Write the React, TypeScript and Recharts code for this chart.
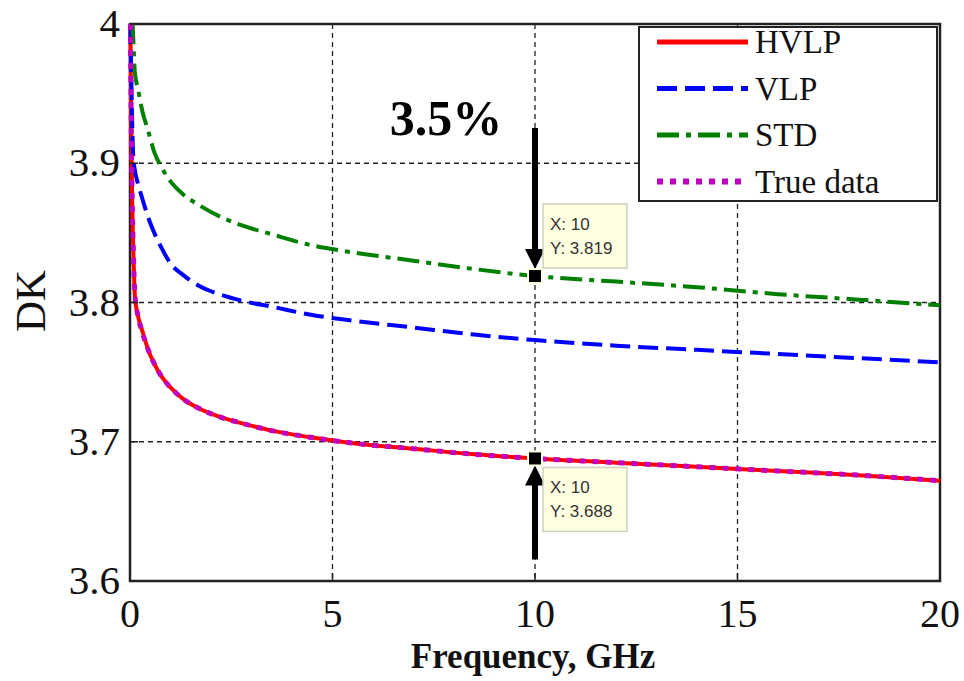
import React from "react"
import {
  LineChart,
  Line,
  XAxis,
  YAxis,
  CartesianGrid,
  ReferenceArea,
  ReferenceDot,
} from "recharts"

// frequency points, GHz
const freq = [0.01, 0.03, 0.05, 0.08, 0.12, 0.2, 0.3, 0.45, 0.6, 0.8, 1, 1.3, 1.7, 2.2, 2.8, 3.5, 4.5, 5.5, 7, 8.5, 10, 12, 14, 16, 18, 20]

const hvlp = [4.0, 3.93, 3.88, 3.84, 3.805, 3.79, 3.78, 3.766, 3.756, 3.746, 3.739, 3.731, 3.724, 3.718, 3.713, 3.708, 3.703, 3.699, 3.695, 3.691, 3.688, 3.685, 3.682, 3.679, 3.676, 3.672]
const vlp = [4.0, 3.965, 3.935, 3.905, 3.895, 3.885, 3.875, 3.861, 3.85, 3.838, 3.828, 3.82, 3.812, 3.806, 3.801, 3.797, 3.791, 3.787, 3.782, 3.777, 3.773, 3.769, 3.766, 3.763, 3.76, 3.757]
const std = [4.06, 4.03, 4.01, 3.99, 3.965, 3.953, 3.938, 3.923, 3.908, 3.896, 3.887, 3.878, 3.87, 3.862, 3.855, 3.849, 3.841, 3.836, 3.83, 3.824, 3.819, 3.815, 3.811, 3.806, 3.802, 3.798]
const trueData = [4.0, 3.93, 3.881, 3.84, 3.806, 3.79, 3.779, 3.766, 3.756, 3.746, 3.739, 3.731, 3.724, 3.718, 3.713, 3.708, 3.703, 3.699, 3.695, 3.691, 3.688, 3.685, 3.682, 3.679, 3.676, 3.672]

const xTicks = [0, 5, 10, 15, 20]
const yTicks = [3.6, 3.7, 3.8, 3.9, 4]

const upperTip = { x: 10, y: 3.819 }
const lowerTip = { x: 10, y: 3.688 }
const diffLabel = "3.5%"

const data = freq.map((f, i) => ({
  f,
  hvlp: hvlp[i],
  vlp: vlp[i],
  std: std[i],
  trueData: trueData[i],
}))

const series = [
  { key: "hvlp", name: "HVLP", color: "#ff0000", dash: undefined, width: 4 },
  { key: "vlp", name: "VLP", color: "#0000ff", dash: "20 8", width: 4 },
  { key: "std", name: "STD", color: "#007f00", dash: "22 7 5 7", width: 4 },
  { key: "trueData", name: "True data", color: "#bf00bf", dash: "6 7", width: 5 },
]

const serif = "Liberation Serif, serif"
const sans = "Liberation Sans, sans-serif"

const BottomTick = (props: any) => {
  const { x, y, payload } = props
  return (
    <g>
      <line x1={x} y1={y} x2={x} y2={y - 8} stroke="#222" strokeWidth={1.5} />
      <text x={x} y={y + 46} textAnchor="middle" style={{ fontFamily: serif }} fontSize={40} fill="#111">
        {payload.value}
      </text>
    </g>
  )
}

const TopTick = (props: any) => {
  const { x, y } = props
  return <line x1={x} y1={y} x2={x} y2={y + 8} stroke="#222" strokeWidth={1.5} />
}

const LeftTick = (props: any) => {
  const { x, y, payload } = props
  const v = payload.value === 4 ? "4" : payload.value.toFixed(1)
  return (
    <g>
      <line x1={x} y1={y} x2={x + 8} y2={y} stroke="#222" strokeWidth={1.5} />
      <text x={x - 10} y={y + 13} textAnchor="end" style={{ fontFamily: serif }} fontSize={41} fill="#111">
        {v}
      </text>
    </g>
  )
}

const RightTick = (props: any) => {
  const { x, y } = props
  return <line x1={x} y1={y} x2={x - 8} y2={y} stroke="#222" strokeWidth={1.5} />
}

const DataTip = ({ cx, cy, value, above }: any) => {
  const boxY = above ? cy - 72 : cy + 9
  return (
    <g>
      <rect x={cx + 8} y={boxY} width={84} height={64} fill="#ffffe1" stroke="#cfcfbf" strokeWidth={1.5} />
      <text x={cx + 15} y={boxY + 26} style={{ fontFamily: sans }} fontSize={17} fill="#333">X: 10</text>
      <text x={cx + 15} y={boxY + 50} style={{ fontFamily: sans }} fontSize={17} fill="#333">{"Y: " + value}</text>
      <rect x={cx - 8} y={cy - 8} width={16} height={16} fill="#ffffe1" />
      <rect x={cx - 6} y={cy - 6} width={12} height={12} fill="#000" />
    </g>
  )
}

const UpperMark = (props: any) => {
  const { cx, cy } = props
  return (
    <g>
      <rect x={cx - 3} y={cy - 148} width={6} height={122} fill="#000" />
      <polygon points={`${cx - 10},${cy - 27} ${cx + 10},${cy - 27} ${cx},${cy - 7}`} fill="#000" />
      <DataTip cx={cx} cy={cy} value={upperTip.y} above />
      <text x={cx - 89} y={cy - 141} textAnchor="middle" style={{ fontFamily: serif }} fontWeight="bold" fontSize={50} fill="#000">
        {diffLabel}
      </text>
    </g>
  )
}

const LowerMark = (props: any) => {
  const { cx, cy } = props
  return (
    <g>
      <rect x={cx - 3} y={cy + 24} width={6} height={77} fill="#000" />
      <polygon points={`${cx - 10},${cy + 27} ${cx + 10},${cy + 27} ${cx},${cy + 7}`} fill="#000" />
      <DataTip cx={cx} cy={cy} value={lowerTip.y} above={false} />
    </g>
  )
}

// legend drawn as an overlay box in the top-right corner of the plot
const LegendBox = () => (
  <svg width={304} height={182} style={{ position: "absolute", left: 636, top: 22 }}>
    <rect x={3} y={5} width={298} height={174} fill="#fff" stroke="#222" strokeWidth={2} />
    {series.map((s, i) => {
      const y = 20 + i * 46.5
      return (
        <g key={s.key}>
          <line x1={21} y1={y} x2={112} y2={y} stroke={s.color} strokeWidth={s.width + 1} strokeDasharray={s.dash} />
          <text x={119} y={y + 11} style={{ fontFamily: serif }} fontSize={33} fill="#111">{s.name}</text>
        </g>
      )
    })}
  </svg>
)

const YLabel = () => (
  <text x={45} y={301} transform="rotate(-90 45 301)" textAnchor="middle" style={{ fontFamily: serif }} fontSize={43} fill="#111">
    DK
  </text>
)

const XLabel = () => (
  <text x={533} y={668} textAnchor="middle" style={{ fontFamily: serif }} fontWeight="bold" fontSize={35} fill="#111">
    Frequency, GHz
  </text>
)

export default function App() {
  return (
    <div style={{ position: "absolute", left: 0, top: 0, width: 964, height: 681, background: "#fff" }}>
      <LineChart width={964} height={681} data={data} margin={{ top: 24, right: 24, left: 0, bottom: 0 }}>
        <CartesianGrid stroke="#222" strokeWidth={1.3} strokeDasharray="5 4" />
        <XAxis
          dataKey="f"
          type="number"
          domain={[0, 20]}
          ticks={xTicks}
          height={100}
          axisLine={false}
          tickLine={false}
          tickSize={0}
          tickMargin={0}
          tick={<BottomTick />}
          label={<XLabel />}
        />
        <XAxis xAxisId="top" orientation="top" dataKey="f" type="number" domain={[0, 20]} ticks={xTicks} height={0} axisLine={false} tickLine={false} tickSize={0} tickMargin={0} tick={<TopTick />} />
        <YAxis
          type="number"
          domain={[3.6, 4]}
          ticks={yTicks}
          allowDataOverflow
          width={130}
          axisLine={false}
          tickLine={false}
          tickSize={0}
          tickMargin={0}
          tick={<LeftTick />}
          label={<YLabel />}
        />
        <YAxis yAxisId="right" orientation="right" type="number" domain={[3.6, 4]} ticks={yTicks} width={0} axisLine={false} tickLine={false} tickSize={0} tickMargin={0} tick={<RightTick />} />
        {series.map((s) => (
          <Line
            key={s.key}
            dataKey={s.key}
            name={s.name}
            type="monotone"
            stroke={s.color}
            strokeWidth={s.width}
            strokeDasharray={s.dash}
            dot={false}
            isAnimationActive={false}
          />
        ))}
        <ReferenceArea x1={0} x2={20} y1={3.6} y2={4} fill="none" stroke="#222" strokeWidth={2.5} />
        <ReferenceDot x={upperTip.x} y={upperTip.y} r={6} shape={<UpperMark />} />
        <ReferenceDot x={lowerTip.x} y={lowerTip.y} r={6} shape={<LowerMark />} />
      </LineChart>
      <LegendBox />
    </div>
  )
}
